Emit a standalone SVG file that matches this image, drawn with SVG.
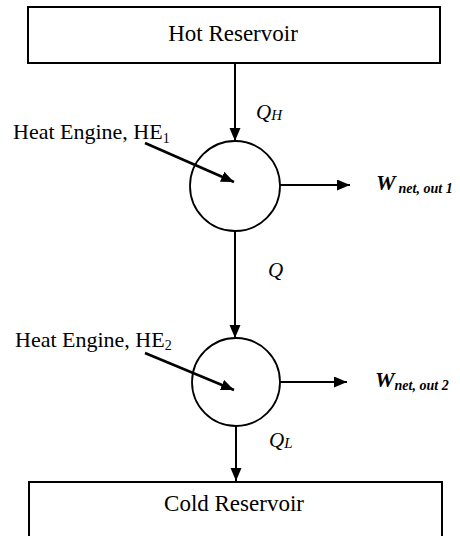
<svg xmlns="http://www.w3.org/2000/svg" width="460" height="536" viewBox="0 0 460 536">
<defs>
<marker id="ah" markerUnits="userSpaceOnUse" markerWidth="14" markerHeight="12" refX="13" refY="5.5" orient="auto">
<path d="M0,0 L13,5.5 L0,11 Z" fill="#000"/>
</marker>
<style>
.box{fill:#fff;stroke:#000;stroke-width:2}
.eng{fill:#fff;stroke:#000;stroke-width:1.8}
.lbl{font-family:"Liberation Serif","Times New Roman",serif;fill:#000}
.big{font-size:23px}
.he{font-size:22px}
.sub{font-size:14px}
.q{font-family:"Liberation Serif","Times New Roman",serif;font-style:italic;font-size:21px;fill:#000}
.w{font-family:"Liberation Serif","Times New Roman",serif;font-style:italic;font-weight:bold;fill:#000}
.c{fill:none;stroke:#000;stroke-width:2;marker-end:url(#ah)}
.p{fill:none;stroke:#000;stroke-width:2.6;marker-end:url(#ah)}
</style>
</defs>
<rect width="460" height="536" fill="#fff"/>
<g id="hot">
<rect class="box" x="28" y="7" width="412" height="56"/>
<text class="lbl big" x="233" y="41" text-anchor="middle">Hot Reservoir</text>
</g>
<g id="cold">
<rect class="box" x="29" y="482" width="413" height="80"/>
<text class="lbl big" x="234" y="511" text-anchor="middle">Cold Reservoir</text>
</g>
<g id="he1">
<circle class="eng" cx="235" cy="186" r="45"/>
<text class="lbl he" x="13" y="139">Heat Engine, HE<tspan class="sub" dy="4">1</tspan></text>
</g>
<g id="he2">
<circle class="eng" cx="236" cy="382" r="44"/>
<text class="lbl he" x="15" y="347">Heat Engine, HE<tspan class="sub" dy="3">2</tspan></text>
</g>
<g id="connectors">
<line class="c" x1="235" y1="63" x2="235" y2="141"/>
<line class="c" x1="235" y1="231" x2="235" y2="338"/>
<line class="c" x1="236" y1="426" x2="236" y2="481"/>
<line class="c" x1="280" y1="185" x2="350" y2="185"/>
<line class="c" x1="280" y1="382" x2="347" y2="382"/>
<line class="p" x1="145" y1="143" x2="234" y2="182"/>
<line class="p" x1="145" y1="353" x2="234" y2="390"/>
</g>
<g id="labels">
<text class="q" x="256" y="119">Q<tspan font-size="15" dy="1">H</tspan></text>
<text class="q" x="268" y="277">Q</text>
<text class="q" x="269" y="447">Q<tspan font-size="15" dy="1">L</tspan></text>
<text class="w" x="376" y="190"><tspan font-size="22">W</tspan><tspan font-size="14" dx="3" dy="3">net, out 1</tspan></text>
<text class="w" x="375" y="387"><tspan font-size="22">W</tspan><tspan font-size="14" dy="3">net, out 2</tspan></text>
</g>
</svg>
